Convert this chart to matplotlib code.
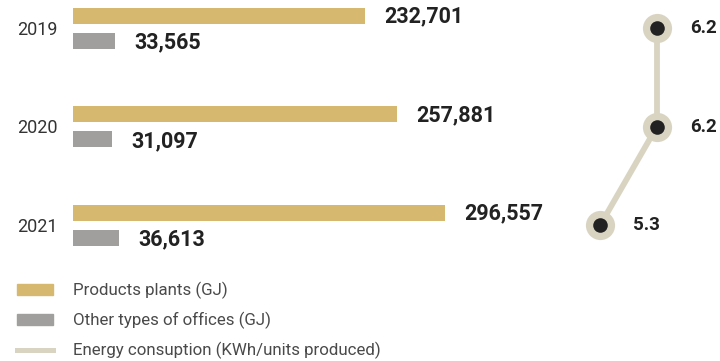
import matplotlib.pyplot as plt
from matplotlib.patches import Patch
from matplotlib.lines import Line2D

plt.rcParams['font.family'] = ['Roboto', 'DejaVu Sans']

years = ['2019', '2020', '2021']
plants_gj = [232701, 257881, 296557]
offices_gj = [33565, 31097, 36613]
energy_kwh = [6.2, 6.2, 5.3]

GOLD = '#D6B96E'
GREY = '#A09F9D'
BEIGE = '#D9D4C2'
DARK = '#222222'

W, H = 720, 361
fig = plt.figure(figsize=(W / 100, H / 100), dpi=100)

# rows are 98.5 px apart, first row centre 28 px from the top
row_px = 98.5
top_px = 28
ylim = ((H - top_px) / row_px, -top_px / row_px)
rows = list(range(len(years)))

# bars: x scale of 0.001256 px per GJ starting at 73 px
scale = 0.001256
ax = fig.add_axes([73 / W, 0, 1 - 73 / W, 1])
ax.set_xlim(0, (W - 73) / scale)
ax.set_ylim(*ylim)
ax.axis('off')

bh = 16 / row_px
off = 12.5 / row_px
ax.barh([r - off for r in rows], plants_gj, height=bh, color=GOLD)
ax.barh([r + off for r in rows], offices_gj, height=bh, color=GREY)

pad = 19 / scale
for r, a, b in zip(rows, plants_gj, offices_gj):
    ax.text(a + pad, r - off + 0.01, f'{a:,}', fontsize=15.5, fontweight='bold',
            color=DARK, va='center', ha='left')
    ax.text(b + pad, r + off + 0.02, f'{b:,}', fontsize=15.5, fontweight='bold',
            color=DARK, va='center', ha='left')

for r, y in zip(rows, years):
    ax.text(-15 / scale, r + 0.02, y, fontsize=13, color='#333333',
            va='center', ha='right')

# energy line on its own x scale
lx = fig.add_axes([0, 0, 1, 1])
ppu = 63
lx.set_xlim(6.2 - 657 / ppu, 6.2 + (W - 657) / ppu)
lx.set_ylim(*ylim)
lx.axis('off')
lx.plot(energy_kwh, rows, color=BEIGE, lw=4.2, zorder=1)
lx.plot(energy_kwh, rows, 'o', ms=21, color=BEIGE, mec='none', zorder=2)
lx.plot(energy_kwh, rows, 'o', ms=10.5, color=DARK, mec='none', zorder=3)
for r, v in zip(rows, energy_kwh):
    lx.text(v + 33 / ppu, r, f'{v}', fontsize=13.5, fontweight='bold',
            color=DARK, va='center', ha='left')

handles = [Patch(color=GOLD), Patch(color=GREY),
           Line2D([], [], color=BEIGE, lw=3.6)]
labels = ['Products plants (GJ)', 'Other types of offices (GJ)',
          'Energy consuption (KWh/units produced)']
leg = fig.legend(handles, labels, loc='upper left',
                 bbox_to_anchor=(17 / W, 1 - 282 / H), frameon=False,
                 borderpad=0, borderaxespad=0, handlelength=2.1,
                 handleheight=0.56, handletextpad=1.18, labelspacing=0.75,
                 prop={'size': 12.2})
for t in leg.get_texts():
    t.set_color('#4a4a4a')

fig.savefig('out.png', dpi=100)
